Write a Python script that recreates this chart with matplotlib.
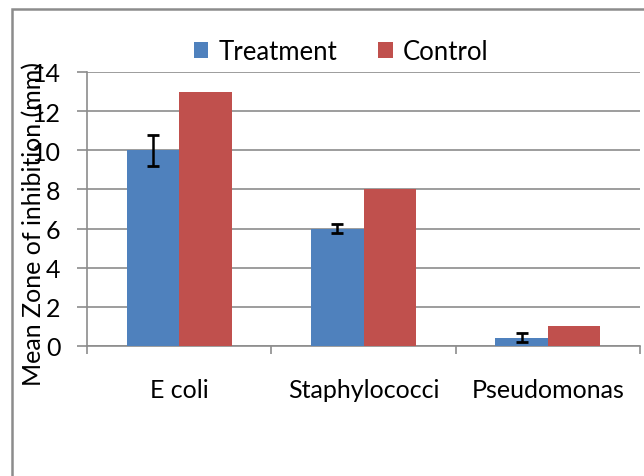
import numpy as np
import matplotlib
matplotlib.use("Agg")
import matplotlib.pyplot as plt
from matplotlib.patches import Rectangle

plt.rcParams['font.family'] = ['Lato', 'DejaVu Sans']

categories = ['E coli', 'Staphylococci', 'Pseudomonas']
treatment = [10, 6, 0.42]
treatment_err = [0.8, 0.22, 0.22]
control = [13, 8, 1]

fig = plt.figure(figsize=(6.44, 4.77), dpi=100)
ax = fig.add_axes([87/644, 1-347/477, (640-87)/644, (347-73)/477])

# outer chart frame (cut off at right/bottom like the source)
fig.patches.append(Rectangle((12/644, -0.05), 1.2, 1-10/477+0.05, transform=fig.transFigure,
                             fill=False, edgecolor='#8c8c8c', linewidth=1.8))

x = np.arange(len(categories))
w = 0.285
ax.bar(x - w/2, treatment, w, color='#4F81BD', label='Treatment', zorder=3)
ax.bar(x + w/2, control, w, color='#C0504D', label='Control', zorder=3)
ax.errorbar(x - w/2, treatment, yerr=treatment_err, fmt='none', ecolor='black',
            elinewidth=1.8, capsize=4, capthick=2, zorder=4)

ax.set_xlim(-0.5, 2.5)
ax.set_ylim(0, 14)
ax.set_yticks(range(0, 15, 2))
ax.yaxis.grid(True, color='#8c8c8c', linewidth=1.2, zorder=0)
ax.set_axisbelow(True)
for s in ['top', 'right']:
    ax.spines[s].set_visible(False)
ax.spines['left'].set_color('#8c8c8c')
ax.spines['bottom'].set_color('#8c8c8c')
ax.spines['left'].set_linewidth(1.2)
ax.spines['bottom'].set_linewidth(1.2)

ax.set_xticks(x)
ax.set_xticklabels(categories, fontsize=18)
ax.tick_params(axis='x', length=0, pad=23)
ax.set_xticks([-0.5, 0.5, 1.5, 2.5], minor=True)
ax.tick_params(axis='x', which='minor', length=6, color='#8c8c8c', width=1.2)
ax.tick_params(axis='y', labelsize=18, length=7, color='#8c8c8c', width=1.2, pad=12)

ax.set_ylabel('Mean Zone of inhibition (mm)', fontsize=18)
ax.yaxis.set_label_coords(-0.075, 0.45)

ax.legend(loc='upper center', bbox_to_anchor=(0.46, 1.205), ncol=2, frameon=False,
          fontsize=18.5, handlelength=0.55, handleheight=0.55, columnspacing=1.6, handletextpad=0.4)

fig.savefig('out.png', dpi=100)
